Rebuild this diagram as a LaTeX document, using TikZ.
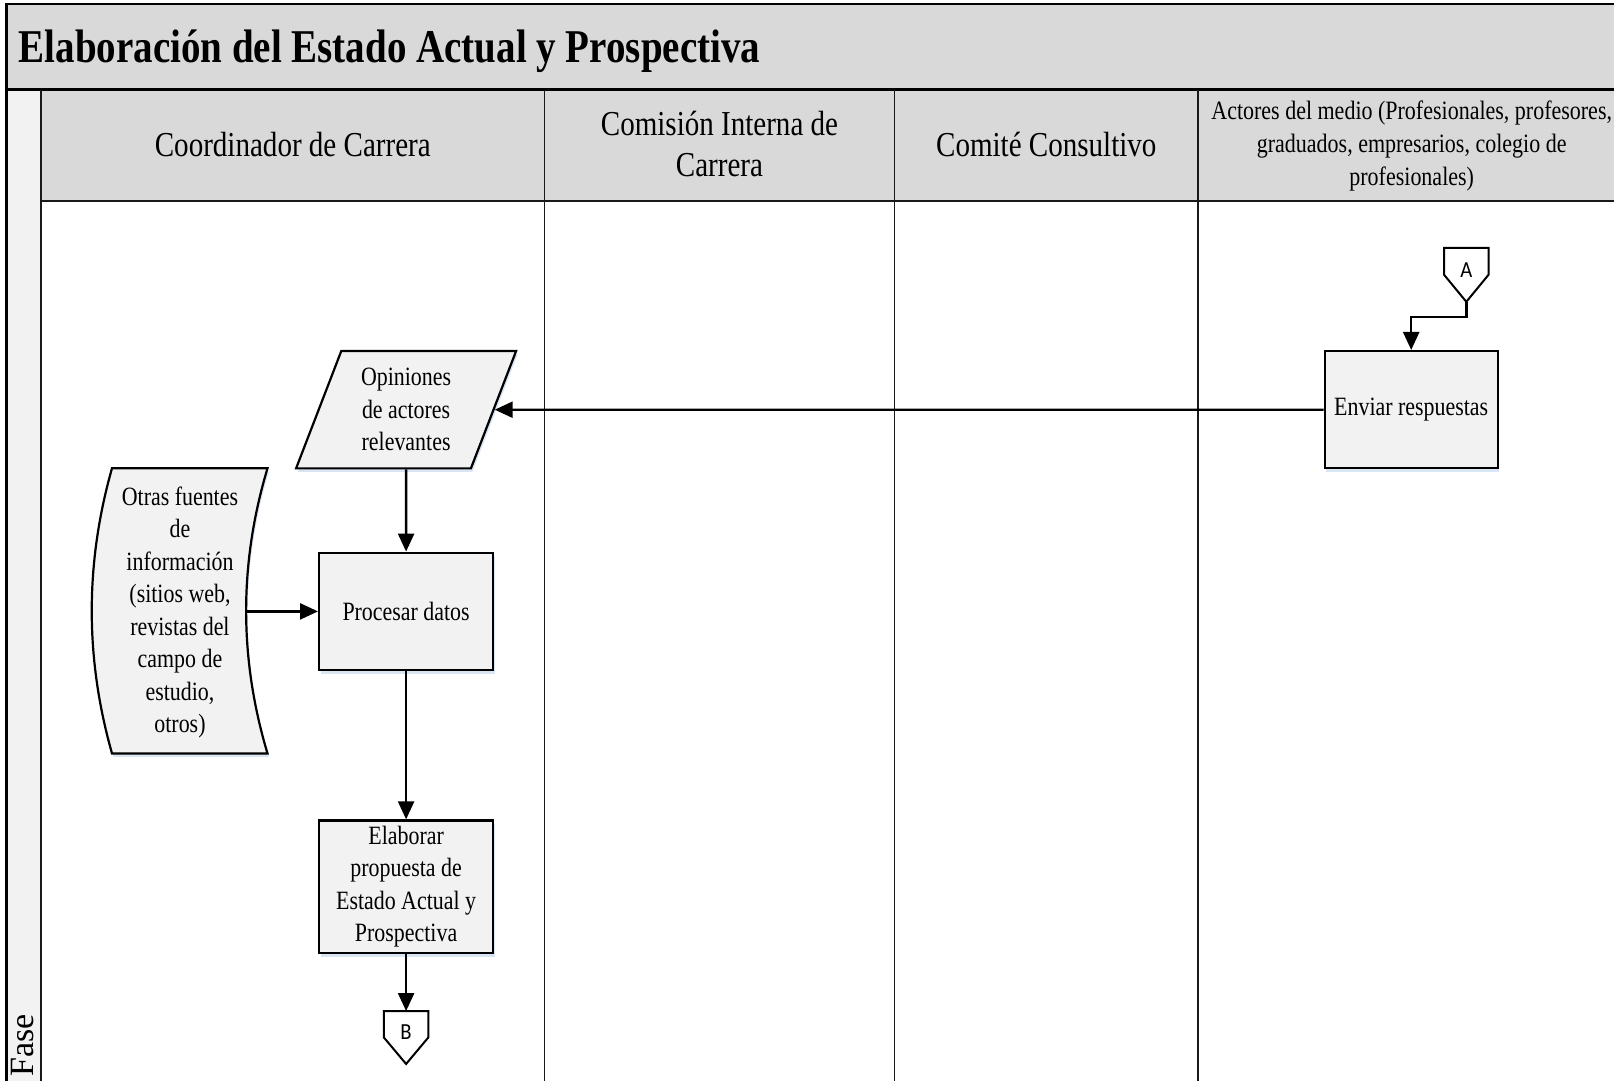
\documentclass[tikz,border=0pt]{standalone}
\usepackage{fontspec}
\setmainfont{Liberation Serif}[FakeStretch=0.83]
\newfontfamily\plainserif{Liberation Serif}
\newfontfamily\connfont{Carlito}[FakeStretch=0.9]
\usetikzlibrary{shapes.geometric,arrows.meta,calc,shadows}

\definecolor{bandgray}{RGB}{217,217,217}
\definecolor{stripgray}{RGB}{242,242,242}
\definecolor{boxfill}{RGB}{242,242,242}
\definecolor{haze}{RGB}{214,226,242}

\newcommand\titlesize{\fontsize{47}{56}\selectfont}
\newcommand\lanesize{\fontsize{35}{41}\selectfont}
\newcommand\smallsize{\fontsize{26.5}{33}\selectfont}
\newcommand\bodysize{\fontsize{26.4}{32.5}\selectfont}

% outline of an off-page connector drawn round its node
\newcommand\offpageoutline[1]{%
  \draw[connline] (#1.north west) -- (#1.north east)
    -- ($(#1.north east)!0.5!(#1.south east)$) -- (#1.south)
    -- ($(#1.north west)!0.5!(#1.south west)$) -- cycle;}

\begin{document}
\begin{tikzpicture}[x=1pt,y=-1pt,
  frame/.style={draw=black, line width=2.8pt},
  laneline/.style={draw=black!90, line width=1.7pt},
  boxline/.style={draw=black, line width=2.2pt},
  connline/.style={draw=black, line width=2pt, line join=miter},
  haloshadow/.style={drop shadow={shadow xshift=1.5pt, shadow yshift=-3.5pt, fill=haze, opacity=0.9}},
  box/.style={boxline, fill=boxfill, haloshadow, align=center, inner sep=2pt, font=\bodysize},
  header/.style={align=center, inner sep=0pt, font=\lanesize},
  offpage/.style={minimum width=44pt, inner sep=0pt, text depth=10pt,
    font=\connfont\fontsize{23}{23}\selectfont},
  flow/.style={draw=black, line width=2.4pt, -{Triangle[length=18pt, width=16pt]}}
]
\useasboundingbox (0,0) rectangle (1614,1081);
\clip (0,0) rectangle (1614,1081);

% bands and strips
\fill[bandgray] (6.5,4) rectangle (1630,89.5);
\fill[bandgray] (41.2,89.5) rectangle (1630,200.7);
\fill[stripgray] (6.5,89.5) rectangle (41.2,1090);

% frame and lane dividers
\draw[frame] (1630,4) -- (6.5,4) -- (6.5,1090);
\draw[frame] (6.5,89.5) -- (1630,89.5);
\draw[laneline] (41.2,89.5) -- (41.2,1090);
\draw[laneline] (41.2,200.7) -- (1630,200.7);
\foreach \lx in {544.5, 894.5, 1198.1}
  \draw[laneline] (\lx,89.5) -- (\lx,1090);

% title and lane headers
\node[anchor=base west, inner sep=0pt, font=\bfseries\titlesize] (title) at (18.5,62.8)
  {Elaboración del Estado Actual y Prospectiva};
\node[header] (hcoord) at (292.8,145) {Coordinador de Carrera};
\node[header] (hcomision) at (719.5,144.5) {Comisión Interna de\\Carrera};
\node[header] (hcomite) at (1046.3,145) {Comité Consultivo};
\node[header, font=\smallsize] (hactores) at (1411.7,146)
  {Actores del medio (Profesionales, profesores,\\graduados, empresarios, colegio de\\profesionales)};
\node[rotate=90, anchor=base west, inner sep=0pt, font=\plainserif\fontsize{34}{34}\selectfont]
  (fase) at (33,1077) {Fase};

% off-page connector A
\node[offpage, minimum height=53.6pt] (A) at (1466.3,274.8) {A};
\offpageoutline{A}

% process boxes
\node[box, minimum width=173pt, minimum height=117.3pt] (env) at (1411.2,409.7) {Enviar respuestas};
\node[box, shape=trapezium, trapezium left angle=69.3, trapezium right angle=110.7,
  trapezium stretches=true, minimum width=220.3pt, minimum height=117.3pt]
  (opin) at (406.1,409.7) {Opiniones\\de actores\\relevantes};
\node[box, minimum width=174pt, minimum height=117.4pt] (proc) at (406.1,611.4) {Procesar datos};
\node[box, minimum width=174pt, minimum height=132.7pt] (elab) at (406.1,886.8)
  {Elaborar\\propuesta de\\Estado Actual y\\Prospectiva};

% stored-data source
\draw[boxline, fill=boxfill, haloshadow]
  (112,468.3) -- (267.5,468.3) .. controls (239,563.3) and (239,658.3) .. (267.5,753.4)
  -- (112,753.4) .. controls (85,658.3) and (85,563.3) .. cycle;
\node[align=center, inner sep=0pt, font=\bodysize] (otras) at (180,612.5)
  {Otras fuentes\\de\\información\\(sitios web,\\revistas del\\campo de\\estudio,\\otros)};
\coordinate (otras-e) at (246.1,611.4);

% off-page connector B
\node[offpage, minimum height=52.5pt] (B) at (406.1,1037.5) {B};
\offpageoutline{B}

% connectors
\draw[flow] (A.south) -- ++(0,15.4) -| (env.north);
\draw[flow] (env) -- (opin);
\draw[flow] (opin) -- (proc);
\draw[flow] (otras-e) -- (proc);
\draw[flow] (proc) -- (elab);
\draw[flow] (elab) -- (B);
\end{tikzpicture}
\end{document}
